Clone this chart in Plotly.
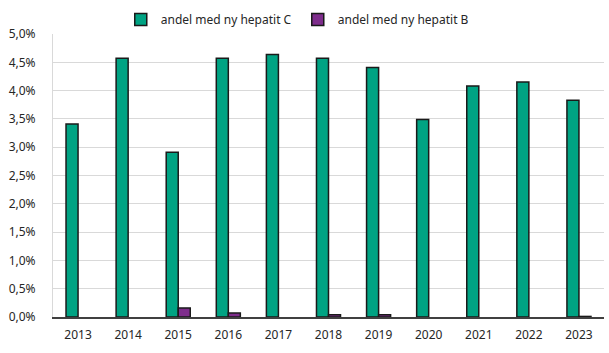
import plotly.graph_objects as go

years = ["2013", "2014", "2015", "2016", "2017", "2018", "2019", "2020", "2021", "2022", "2023"]
hep_c = [3.41, 4.57, 2.91, 4.57, 4.64, 4.57, 4.41, 3.49, 4.08, 4.15, 3.83]
hep_b = [None, None, 0.16, 0.07, None, 0.04, 0.04, None, None, None, 0.01]
tick_vals = [0, 0.5, 1.0, 1.5, 2.0, 2.5, 3.0, 3.5, 4.0, 4.5, 5.0]
tick_text = ["0,0%", "0,5%", "1,0%", "1,5%", "2,0%", "2,5%", "3,0%", "3,5%", "4,0%", "4,5%", "5,0%"]

fig = go.Figure()
fig.add_trace(go.Bar(x=years, y=hep_c, name="andel med ny hepatit C",
                     marker=dict(color="#00A383", line=dict(color="#1a1a1a", width=1.5))))
fig.add_trace(go.Bar(x=years, y=hep_b, name="andel med ny hepatit B",
                     marker=dict(color="#7E2D8C", line=dict(color="#1a1a1a", width=1.5))))

fig.update_layout(
    width=609, height=353,
    margin=dict(l=53, r=5, t=28, b=36),
    paper_bgcolor="white", plot_bgcolor="white",
    barmode="group", bargap=0.52, bargroupgap=0,
    font=dict(family="Noto Sans", size=12, color="#262626"),
    showlegend=True,
    legend=dict(orientation="h", x=0.123, xanchor="left", y=1.0, yanchor="bottom",
                font=dict(size=12), itemwidth=30, traceorder="normal",
                entrywidth=132, entrywidthmode="pixels"),
    xaxis=dict(showgrid=False, showline=True, linecolor="#404040", linewidth=1.5,
               ticks="", tickfont=dict(size=12), ticklabelstandoff=6),
    yaxis=dict(range=[0, 5.0], tickvals=tick_vals, ticktext=tick_text,
               showgrid=True, gridcolor="#d9d9d9", gridwidth=1,
               showline=True, linecolor="#d9d9d9", linewidth=1, ticks="", zeroline=False,
               tickfont=dict(size=12), ticklabelstandoff=14),
)
fig.write_html("out.html")
